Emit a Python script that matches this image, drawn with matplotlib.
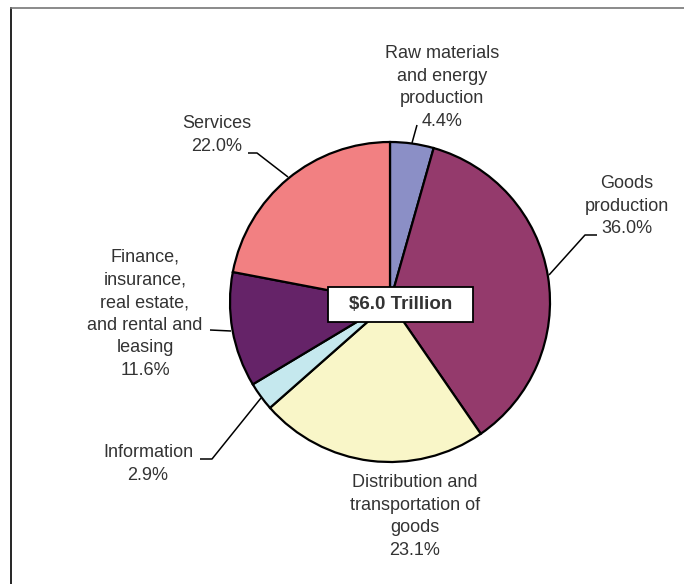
import matplotlib
matplotlib.use("Agg")
import matplotlib.pyplot as plt
from matplotlib.patches import Rectangle

# data
sectors = ["Raw materials\nand energy\nproduction", "Goods\nproduction",
           "Distribution and\ntransportation of\ngoods", "Information",
           "Finance,\ninsurance,\nreal estate,\nand rental and\nleasing", "Services"]
shares = [4.4, 36.0, 23.1, 2.9, 11.6, 22.0]
colors = ["#8B8FC6", "#943A6C", "#F9F6C8", "#C5E8EE", "#652368", "#F28082"]
total_label = "$6.0 Trillion"

W, H = 684, 584
TXT = "#333333"

plt.rcParams["font.family"] = ["Liberation Sans", "DejaVu Sans"]

fig = plt.figure(figsize=(W / 100, H / 100), dpi=100)
ax = fig.add_axes([0, 0, 1, 1])


def py(y):
    # pixel row -> data y
    return H - y


cx, cy, r = 390, 302, 160
ax.pie(shares, colors=colors, startangle=90, counterclock=False,
       center=(cx, py(cy)), radius=r, frame=True,
       wedgeprops=dict(edgecolor="black", linewidth=1.6))
ax.set_xlim(0, W)
ax.set_ylim(0, H)
ax.set_aspect("equal")
ax.axis("off")

# frame (only left/top edges visible in the source)
ax.plot([11, 11], [py(8), py(H + 5)], color="black", lw=1.2)
ax.plot([11, W + 5], [py(8), py(8)], color="#777777", lw=1.2)

labels = [f"{s}\n{v:.1f}%" for s, v in zip(sectors, shares)]
# label anchor (center x, top y in pixels)
label_pos = [(442, 45), (627, 175), (415, 474), (148, 444), (145, 249), (217, 115)]
for lab, (lx, ly) in zip(labels, label_pos):
    ax.text(lx, py(ly), lab, ha="center", va="top", fontsize=13,
            color=TXT, linespacing=1.43)

# leader lines (pixel coords)
leaders = [
    [(417, 125), (412, 143)],
    [(597, 235), (585, 235), (549, 275)],
    [(200, 459), (212, 459), (261, 398)],
    [(210, 330), (231, 331)],
    [(248, 153), (257, 153), (288, 177)],
]
for pts in leaders:
    xs = [p[0] for p in pts]
    ys = [py(p[1]) for p in pts]
    ax.plot(xs, ys, color="black", lw=1.1, solid_capstyle="butt")

# center total box
ax.add_patch(Rectangle((328, py(322)), 145, 35, facecolor="white",
                       edgecolor="black", lw=1.3, zorder=5))
ax.text(400.5, py(304.5), total_label, ha="center", va="center", fontsize=13.5,
        fontweight="bold", color=TXT, zorder=6)

fig.savefig("out.png", dpi=100)
